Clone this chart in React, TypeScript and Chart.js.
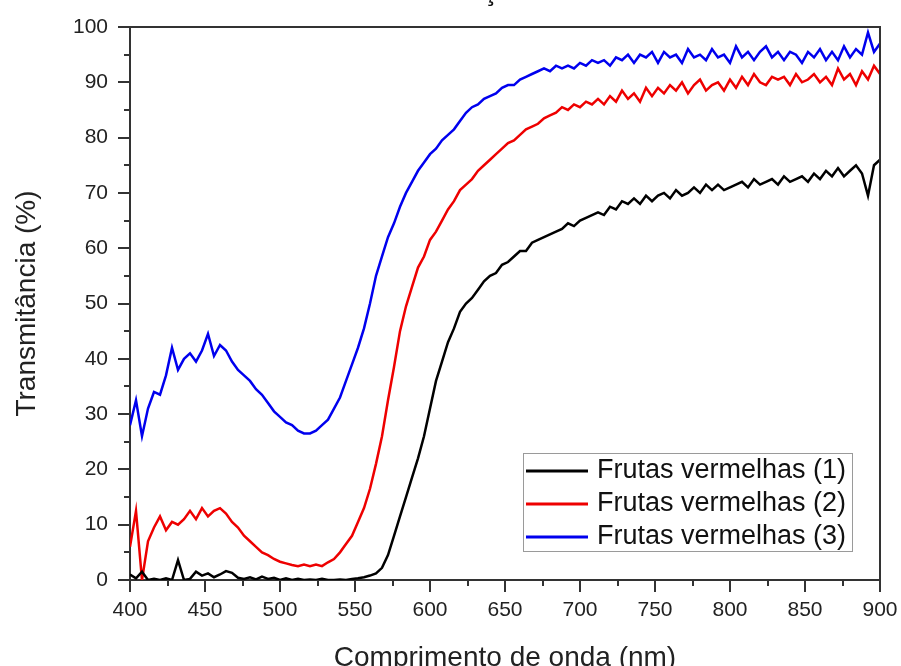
import { useEffect, useRef } from "react";
import { Chart, registerables } from "chart.js";

Chart.register(...registerables);

const FONT = '"Liberation Sans", Arial, Helvetica, sans-serif';

// wavelengths, 4 nm grid from 400 to 900 nm
const WAVELENGTHS: number[] = Array.from({ length: 126 }, (_, i) => 400 + 4 * i);

const SERIES_LABELS = ["Frutas vermelhas (1)", "Frutas vermelhas (2)", "Frutas vermelhas (3)"];
const SERIES_COLORS = ["#000000", "#ee0000", "#0000ee"];

const SERIES_1 = [
  1, 0.3, 1.5, 0, 0.2, 0, 0.3, 0, 3.6, 0,
  0.2, 1.5, 0.8, 1.2, 0.5, 1, 1.6, 1.3, 0.4, 0.2,
  0.5, 0.1, 0.6, 0.2, 0.4, 0, 0.3, 0, 0.2, 0,
  0.1, 0, 0.2, 0, 0, 0.1, 0, 0.2, 0.3, 0.5,
  0.8, 1.2, 2.2, 4.5, 8, 11.5, 15, 18.5, 22, 26,
  31, 36, 39.5, 43, 45.5, 48.5, 50, 51, 52.5, 54,
  55, 55.5, 57, 57.5, 58.5, 59.5, 59.5, 61, 61.5, 62,
  62.5, 63, 63.5, 64.5, 64, 65, 65.5, 66, 66.5, 66,
  67.5, 67, 68.5, 68, 69, 68, 69.5, 68.5, 69.5, 70,
  69, 70.5, 69.5, 70, 71, 70, 71.5, 70.5, 71.5, 70.5,
  71, 71.5, 72, 71, 72.5, 71.5, 72, 72.5, 71.5, 73,
  72, 72.5, 73, 72, 73.5, 72.5, 74, 73, 74.5, 73,
  74, 75, 73.5, 69.5, 75, 76,
];

const SERIES_2 = [
  6, 12.5, 0, 7, 9.5, 11.5, 9, 10.5, 10, 11,
  12.5, 11, 13, 11.5, 12.5, 13, 12, 10.5, 9.5, 8,
  7, 6, 5, 4.5, 3.8, 3.3, 3, 2.7, 2.5, 2.8,
  2.5, 2.8, 2.5, 3.2, 3.8, 5, 6.5, 8, 10.5, 13,
  16.5, 21, 26, 32.5, 38.5, 45, 49.5, 53, 56.5, 58.5,
  61.5, 63, 65, 67, 68.5, 70.5, 71.5, 72.5, 74, 75,
  76, 77, 78, 79, 79.5, 80.5, 81.5, 82, 82.5, 83.5,
  84, 84.5, 85.5, 85, 86, 85.5, 86.5, 86, 87, 86,
  87.5, 86.5, 88.5, 87, 88, 86.5, 89, 87.5, 89, 88,
  89.5, 88.5, 90, 88, 89.5, 90.5, 88.5, 89.5, 90, 88.5,
  90.5, 89, 91, 89.5, 91.5, 90, 89.5, 91, 90.5, 91,
  89.5, 91.5, 90, 90.5, 91.5, 90, 91, 89.5, 92.5, 90.5,
  91.5, 89.5, 92, 90.5, 93, 91.5,
];

const SERIES_3 = [
  28, 32.5, 26, 31, 34, 33.5, 37, 42, 38, 40,
  41, 39.5, 41.5, 44.5, 40.5, 42.5, 41.5, 39.5, 38, 37,
  36, 34.5, 33.5, 32, 30.5, 29.5, 28.5, 28, 27, 26.5,
  26.5, 27, 28, 29, 31, 33, 36, 39, 42, 45.5,
  50, 55, 58.5, 62, 64.5, 67.5, 70, 72, 74, 75.5,
  77, 78, 79.5, 80.5, 81.5, 83, 84.5, 85.5, 86, 87,
  87.5, 88, 89, 89.5, 89.5, 90.5, 91, 91.5, 92, 92.5,
  92, 93, 92.5, 93, 92.5, 93.5, 93, 94, 93.5, 94,
  93, 94.5, 94, 95, 93.5, 95, 94.5, 95.5, 93.5, 95.5,
  94.5, 95, 93.5, 96, 94.5, 95, 94, 96, 94.5, 95,
  93.5, 96.5, 94.5, 95.5, 94, 95.5, 96.5, 94.5, 95.5, 94,
  95.5, 95, 93.5, 95.5, 94.5, 96, 94, 95.5, 94, 96.5,
  94.5, 96, 95, 99, 95.5, 97,
];

const X_TICKS = [400, 450, 500, 550, 600, 650, 700, 750, 800, 850, 900];
const X_MINOR = [425, 475, 525, 575, 625, 675, 725, 775, 825, 875];
const Y_TICKS = [0, 10, 20, 30, 40, 50, 60, 70, 80, 90, 100];
const Y_MINOR = [5, 15, 25, 35, 45, 55, 65, 75, 85, 95];

const X_AXIS_TITLE = "Comprimento de onda (nm)";
const Y_AXIS_TITLE = "Transmitância (%)";
const CUT_TITLE_GLYPH = "ç";

const AXIS_COLOR = "#333333";

const framePlugin = {
  id: "frameTicks",
  afterDraw(chart: any) {
    const { ctx, chartArea } = chart;
    const xs = chart.scales.x;
    const ys = chart.scales.y;
    ctx.save();
    ctx.strokeStyle = AXIS_COLOR;
    ctx.lineWidth = 2;
    // top and right frame
    ctx.beginPath();
    ctx.moveTo(chartArea.left, chartArea.top);
    ctx.lineTo(chartArea.right, chartArea.top);
    ctx.lineTo(chartArea.right, chartArea.bottom);
    ctx.stroke();
    const drawX = (vals: number[], len: number) => {
      vals.forEach((v) => {
        const p = Math.round(xs.getPixelForValue(v));
        ctx.beginPath();
        ctx.moveTo(p, chartArea.bottom);
        ctx.lineTo(p, chartArea.bottom + len);
        ctx.stroke();
      });
    };
    const drawY = (vals: number[], len: number) => {
      vals.forEach((v) => {
        const p = Math.round(ys.getPixelForValue(v));
        ctx.beginPath();
        ctx.moveTo(chartArea.left, p);
        ctx.lineTo(chartArea.left - len, p);
        ctx.stroke();
      });
    };
    drawX(X_TICKS, 12);
    drawX(X_MINOR, 6);
    drawY(Y_TICKS, 12);
    drawY(Y_MINOR, 6);

    // cut-off title glyph at the very top
    ctx.fillStyle = "#111";
    ctx.font = `28px ${FONT}`;
    ctx.textAlign = "center";
    ctx.textBaseline = "alphabetic";
    ctx.fillText(CUT_TITLE_GLYPH, 490, 0);

    // legend box
    const w = 329;
    const h = 98;
    const bx = chartArea.right - 28 - w;
    const by = chartArea.bottom - 29 - h;
    ctx.fillStyle = "#ffffff";
    ctx.fillRect(bx, by, w, h);
    ctx.strokeStyle = "#9a9a9a";
    ctx.lineWidth = 1;
    ctx.strokeRect(bx + 0.5, by + 0.5, w, h);
    chart.data.datasets.forEach((ds: any, i: number) => {
      const y = by + 18 + i * 33;
      ctx.strokeStyle = ds.borderColor;
      ctx.lineWidth = 3;
      ctx.beginPath();
      ctx.moveTo(bx + 3, y);
      ctx.lineTo(bx + 65, y);
      ctx.stroke();
      ctx.fillStyle = "#111";
      ctx.font = `27px ${FONT}`;
      ctx.textAlign = "left";
      ctx.textBaseline = "middle";
      ctx.fillText(ds.label, bx + 74, y);
    });
    ctx.restore();
  },
};

export default function App() {
  const ref = useRef<HTMLCanvasElement | null>(null);

  useEffect(() => {
    document.body.style.margin = "0";
    if (!ref.current) return;
    const seriesValues = [SERIES_1, SERIES_2, SERIES_3];
    const chart = new Chart(ref.current, {
      type: "line",
      data: {
        datasets: seriesValues.map((vals, i) => ({
          label: SERIES_LABELS[i],
          data: vals.map((v, j) => ({ x: WAVELENGTHS[j], y: v })),
          borderColor: SERIES_COLORS[i],
          backgroundColor: SERIES_COLORS[i],
          borderWidth: 2.5,
          pointRadius: 0,
          tension: 0,
          fill: false,
        })),
      },
      options: {
        responsive: false,
        animation: false,
        events: [],
        layout: { padding: { top: 27, right: 21, left: 0, bottom: 0 } },
        plugins: {
          legend: { display: false },
          tooltip: { enabled: false },
          title: { display: false },
        },
        scales: {
          x: {
            type: "linear",
            min: 400,
            max: 900,
            afterBuildTicks: (s: any) => {
              s.ticks = X_TICKS.map((v) => ({ value: v }));
            },
            afterFit: (s: any) => {
              s.height = 86;
              s.paddingLeft = 0;
              s.paddingRight = 0;
            },
            ticks: {
              color: "#222",
              font: { size: 21, family: FONT },
              padding: 18,
              maxRotation: 0,
              autoSkip: false,
            },
            grid: { display: true, drawOnChartArea: false, drawTicks: false },
            border: { display: true, color: AXIS_COLOR, width: 2 },
            title: {
              display: true,
              text: X_AXIS_TITLE,
              color: "#222",
              font: { size: 28, family: FONT, lineHeight: "16px" },
              padding: { top: 0, bottom: 0 },
            },
          },
          y: {
            type: "linear",
            min: 0,
            max: 100,
            afterBuildTicks: (s: any) => {
              s.ticks = Y_TICKS.map((v) => ({ value: v }));
            },
            afterFit: (s: any) => {
              s.width = 130;
              s.paddingTop = 0;
              s.paddingBottom = 0;
            },
            ticks: {
              color: "#222",
              font: { size: 21, family: FONT },
              padding: 22,
              autoSkip: false,
            },
            grid: { display: true, drawOnChartArea: false, drawTicks: false },
            border: { display: true, color: AXIS_COLOR, width: 2 },
            title: {
              display: true,
              text: Y_AXIS_TITLE,
              color: "#222",
              font: { size: 28, family: FONT, lineHeight: "28px" },
              padding: { top: 13, bottom: 0 },
            },
          },
        },
      },
      plugins: [framePlugin],
    });
    return () => chart.destroy();
  }, []);

  return (
    <div style={{ width: 901, height: 666, background: "#fff" }}>
      <canvas ref={ref} width={901} height={666} style={{ display: "block" }} />
    </div>
  );
}
